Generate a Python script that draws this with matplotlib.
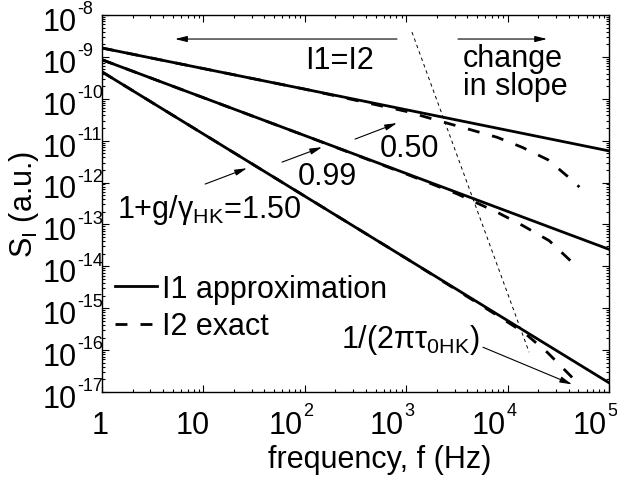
import matplotlib
matplotlib.use('Agg')
import matplotlib.pyplot as plt
import numpy as np
from matplotlib.ticker import LogLocator, NullFormatter

plt.rcParams['font.family'] = ['Liberation Sans', 'DejaVu Sans']
plt.rcParams['mathtext.fontset'] = 'custom'
plt.rcParams['mathtext.rm'] = 'Liberation Sans'

# I1 approximation: straight power laws
f_span = [1, 1e5]
s_approx_050 = [1.63e-9, 5.7e-12]
s_approx_099 = [8.55e-10, 2.55e-14]
s_approx_150 = [4.4e-10, 1.66e-17]

# I2 exact: bends down near 1/(2*pi*tau_0HK)
f_exact_050 = [1, 100, 1e3, 2.3e3, 4.4e3, 7.9e3, 1.4e4, 2.5e4, 4.5e4, 5.1e4]
s_exact_050 = [1.63e-9, 1.7e-10, 5.0e-11, 2.8e-11, 1.8e-11, 1.2e-11,
               6.9e-12, 3.5e-12, 1.05e-12, 7.8e-13]
f_exact_099 = [1, 100, 1e3, 3.16e3, 7.9e3, 1.4e4, 2.57e4, 4.54e4, 5.0e4]
s_exact_099 = [8.55e-10, 1.32e-11, 1.6e-12, 5.4e-13, 1.95e-13, 9.5e-14,
               4.1e-14, 1.12e-14, 8.1e-15]
f_exact_150 = [1, 1e3, 6.3e3, 1.46e4, 2.48e4, 4.2e4, 4.72e4]
s_exact_150 = [4.4e-10, 1.55e-14, 9.5e-16, 2.6e-16, 8.7e-17, 2.4e-17, 1.74e-17]

# boundary between the I1=I2 region and the change in slope
f_boundary = [1.14e3, 1.63e4]
s_boundary = [3.9e-9, 8.9e-17]

x_exps = [0, 1, 2, 3, 4, 5]
y_exps = [-8, -9, -10, -11, -12, -13, -14, -15, -16, -17]

fig = plt.figure(figsize=(6.17, 4.81), dpi=100)
ax = fig.add_axes([102/617, 88/481, 507/617, 377/481])

lw = 2.0
ax.loglog(f_span, s_approx_050, 'k-', lw=lw, label='I1 approximation')
ax.loglog(f_span, s_approx_099, 'k-', lw=lw)
ax.loglog(f_span, s_approx_150, 'k-', lw=lw)
dash = (0, (4.3, 4.7))
ax.loglog(f_exact_050, s_exact_050, color='k', ls=dash, lw=lw, label='I2 exact')
ax.loglog(f_exact_099, s_exact_099, color='k', ls=dash, lw=lw)
ax.loglog(f_exact_150, s_exact_150, color='k', ls=dash, lw=lw)
ax.loglog(f_boundary, s_boundary, color='k', ls=(0, (3.5, 3.5)), lw=0.7)

ax.set_xlim(1, 1e5)
ax.set_ylim(1e-17, 1e-8)

ax.xaxis.set_major_locator(LogLocator(base=10, numticks=20))
ax.yaxis.set_major_locator(LogLocator(base=10, numticks=20))
ax.xaxis.set_minor_locator(LogLocator(base=10, subs=np.arange(2, 10), numticks=100))
ax.yaxis.set_minor_locator(LogLocator(base=10, subs=np.arange(2, 10), numticks=100))
ax.xaxis.set_minor_formatter(NullFormatter())
ax.yaxis.set_minor_formatter(NullFormatter())
ax.tick_params(which='both', direction='in', top=True, right=True,
               labelleft=False, labelbottom=False, width=0.8)
ax.tick_params(which='major', length=5)
ax.tick_params(which='minor', length=2.5)
for sp in ax.spines.values():
    sp.set_linewidth(1.0)

# tick labels written as "10" with a small raised exponent
ytr = ax.get_yaxis_transform()
for e in y_exps:
    ax.annotate('10', xy=(0, 10.0**e), xycoords=ytr, xytext=(-18.5, -5),
                textcoords='offset points', ha='right', va='center', fontsize=22)
    ax.annotate(str(e), xy=(0, 10.0**e), xycoords=ytr, xytext=(-18, 4.5),
                textcoords='offset points', ha='left', va='center', fontsize=13)

xtr = ax.get_xaxis_transform()
for e in x_exps:
    if e == 0:
        ax.annotate('1', xy=(1, 0), xycoords=xtr, xytext=(-1.5, -24),
                    textcoords='offset points', ha='center', va='center', fontsize=22)
    elif e == 1:
        ax.annotate('10', xy=(10, 0), xycoords=xtr, xytext=(-8, -24),
                    textcoords='offset points', ha='center', va='center', fontsize=22)
    else:
        ax.annotate('10', xy=(10.0**e, 0), xycoords=xtr, xytext=(-1.5, -24),
                    textcoords='offset points', ha='right', va='center', fontsize=22)
        ax.annotate(str(e), xy=(10.0**e, 0), xycoords=xtr, xytext=(-1, -13),
                    textcoords='offset points', ha='left', va='center', fontsize=13)

ax.set_xlabel('frequency, f (Hz)', fontsize=22, va='center')
ax.xaxis.set_label_coords(0.548, -0.178)
ax.set_ylabel(r'S$_\mathregular{I}$ (a.u.)', fontsize=22, va='center')
ax.yaxis.set_label_coords(-0.154, 0.5)

leg = ax.legend(loc='center left', bbox_to_anchor=(0.0256, 0.224), frameon=False,
                fontsize=22, handlelength=1.37, handletextpad=0.16,
                labelspacing=0.25, borderpad=0, borderaxespad=0)

arrow = dict(arrowstyle='-|>,head_length=0.6,head_width=0.15', color='k',
             lw=0.8, mutation_scale=12, shrinkA=0, shrinkB=0)

ax.text(222, 8.4e-10, 'I1=I2', fontsize=22, ha='center', va='center')
ax.annotate('', xy=(5.25, 2.67e-9), xytext=(811, 2.67e-9), arrowprops=arrow)
ax.annotate('', xy=(2.45e4, 2.67e-9), xytext=(3.24e3, 2.67e-9), arrowprops=arrow)
ax.text(3.63e3, 4.35e-10, 'change\nin slope', fontsize=22, ha='left', va='center',
        linespacing=0.95)

ax.text(1.09e3, 6.6e-12, '0.50', fontsize=22, ha='center', va='center')
ax.annotate('', xy=(811, 2.63e-11), xytext=(313, 1.09e-11), arrowprops=arrow)
ax.text(166, 1.42e-12, '0.99', fontsize=22, ha='center', va='center')
ax.annotate('', xy=(148, 7.0e-12), xytext=(59.6, 3.07e-12), arrowprops=arrow)
ax.text(1.41, 2.31e-13, r'1+g/γ$_\mathregular{HK}$=1.50', fontsize=22,
        ha='left', va='center')
ax.annotate('', xy=(26.9, 2.2e-12), xytext=(10.4, 9.2e-13), arrowprops=arrow)
ax.text(1.11e3, 1.81e-16, r'1/(2πτ$_\mathregular{0HK}$)', fontsize=22,
        ha='center', va='center')
ax.annotate('', xy=(4.32e4, 1.52e-17), xytext=(5.72e3, 1.17e-16), arrowprops=arrow)

fig.savefig('out.png', dpi=100)
